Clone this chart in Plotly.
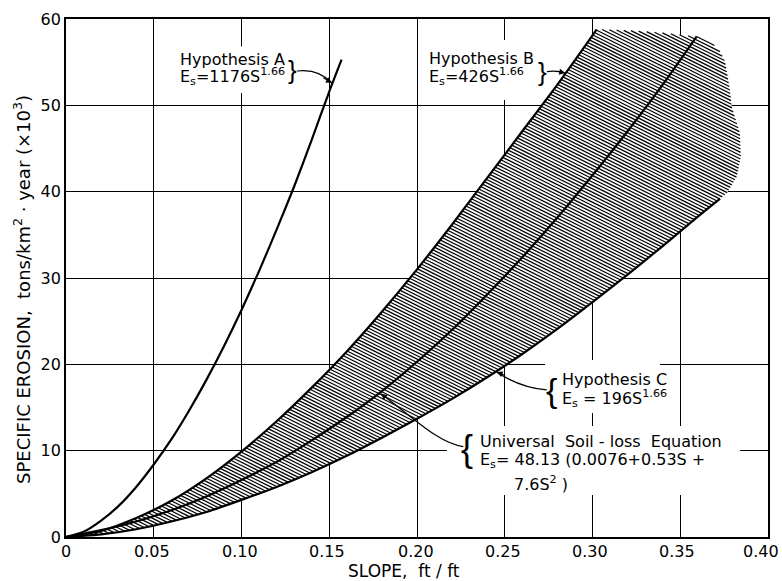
import numpy as np
import plotly.graph_objects as go

# ---------------- data ----------------
slope_a = [0, 0.01, 0.02, 0.03, 0.04, 0.05, 0.06, 0.07, 0.08, 0.09, 0.10,
           0.11, 0.12, 0.13, 0.14, 0.15, 0.157]
erosion_a = [0, 0.6, 1.9, 3.6, 5.8, 8.4, 11.3, 14.6, 18.2, 22.1, 26.3,
             30.8, 35.6, 40.6, 46.0, 51.6, 55.3]

slope_b = [0, 0.02, 0.04, 0.06, 0.08, 0.10, 0.12, 0.14, 0.16, 0.18, 0.20,
           0.22, 0.24, 0.26, 0.28, 0.30, 0.3024]
erosion_b = [0, 0.7, 2.2, 4.2, 6.8, 9.9, 13.4, 17.3, 21.5, 26.1, 31.0,
             36.2, 41.6, 47.0, 52.4, 58.1, 58.8]

slope_c = [0, 0.02, 0.04, 0.06, 0.08, 0.10, 0.12, 0.14, 0.16, 0.18, 0.20,
           0.22, 0.24, 0.26, 0.28, 0.30, 0.32, 0.34, 0.36, 0.3727]
erosion_c = [0, 0.3, 0.9, 1.8, 2.9, 4.3, 5.8, 7.5, 9.4, 11.5, 13.7,
             16.0, 18.5, 21.2, 24.1, 27.2, 30.4, 33.7, 37.1, 39.2]

slope_usle = [0, 0.02, 0.04, 0.06, 0.08, 0.10, 0.12, 0.14, 0.16, 0.18, 0.20,
              0.22, 0.24, 0.26, 0.28, 0.30, 0.32, 0.34, 0.3594]
erosion_usle = [0, 0.8, 1.8, 3.1, 4.7, 6.6, 8.7, 11.2, 13.9, 16.9, 20.3,
                24.0, 28.1, 32.4, 37.0, 41.9, 47.0, 52.4, 58.0]

# outline of the shaded envelope beyond the end of Hypothesis B (top and right edge)
blob_slope = [0.3233, 0.3423, 0.3594, 0.3651, 0.3717, 0.3755, 0.3780, 0.3793,
              0.3840, 0.3845, 0.3822, 0.3765]
blob_erosion = [58.65, 58.35, 57.95, 57.57, 56.61, 55.06, 52.16, 49.84,
                46.76, 44.05, 41.74, 39.81]

x_ticks = [0, 0.05, 0.10, 0.15, 0.20, 0.25, 0.30, 0.35, 0.40]
x_ticklabels = ["0", "0.05", "0.10", "0.15", "0.20", "0.25", "0.30", "0.35", "0.40"]
y_ticks = [0, 10, 20, 30, 40, 50, 60]
y_ticklabels = ["0", "10", "20", "30", "40", "50", "60"]

# ---------------- styling ----------------
FONT = "DejaVu Sans"
W, H = 782, 581
ML, MR, MT, MB = 66, 14, 19, 44
PW, PH = W - ML - MR, H - MT - MB
XR, YR = 0.4, 60.0
PXX, PXY = PW / XR, PH / YR  # pixels per data unit

# envelope polygon: B up, blob, C down
poly_x = list(slope_b) + blob_slope + list(slope_c[::-1])
poly_y = list(erosion_b) + blob_erosion + list(erosion_c[::-1])


def hatch(px, py, slope=0.5, step=3.35):
    u = np.array(px) * PXX
    v = np.array(py) * PXY
    f = v + slope * u
    n = len(u)
    xs, ys = [], []
    for c in np.arange(f.min() + step / 2, f.max(), step):
        pts = []
        for i in range(n):
            j = (i + 1) % n
            a, b = f[i] - c, f[j] - c
            if (a < 0) != (b < 0):
                t = a / (a - b)
                pts.append(u[i] + t * (u[j] - u[i]))
        pts.sort()
        for k in range(0, len(pts) - 1, 2):
            u0, u1 = pts[k], pts[k + 1]
            xs += [u0 / PXX, u1 / PXX, None]
            ys += [(c - slope * u0) / PXY, (c - slope * u1) / PXY, None]
    return xs, ys


fig = go.Figure()

fig.add_trace(go.Scatter(x=poly_x, y=poly_y, fill="toself", fillcolor="white",
                         mode="none", hoverinfo="skip", showlegend=False))
hx, hy = hatch(poly_x, poly_y)
fig.add_trace(go.Scatter(x=hx, y=hy, mode="lines", line=dict(color="black", width=1.25),
                         hoverinfo="skip", showlegend=False))

for xs, ys in [(slope_a, erosion_a), (slope_b, erosion_b), (slope_c, erosion_c),
               (slope_usle, erosion_usle)]:
    fig.add_trace(go.Scatter(x=xs, y=ys, mode="lines", line=dict(color="black", width=2.2,
                                                                   shape="spline", smoothing=0.6),
                             showlegend=False))

# white boxes behind labels (hide grid lines)
boxes = [(0.0593, 0.1333, 51.43, 56.82), (0.2017, 0.2758, 50.62, 57.57),
         (0.2729, 0.3385, 14.36, 20.5), (0.2171, 0.3840, 4.87, 12.86)]
shapes = []
for x0, x1, y0, y1 in boxes:
    shapes.append(dict(type="rect", xref="x", yref="y", x0=x0, x1=x1, y0=y0, y1=y1,
                       fillcolor="white", line=dict(width=0), layer="between"))

# leader curves
leaders = [
    "M 0.1316,53.98 Q 0.1436,54.3 0.1515,52.6",
    "M 0.2741,53.9 Q 0.279,54.1 0.2845,53.75",
    "M 0.2739,17.03 Q 0.2587,17.3 0.2454,19.1",
    "M 0.2264,10.46 C 0.212,10.9 0.198,13.8 0.1795,16.6",
]
for p in leaders:
    shapes.append(dict(type="path", xref="x", yref="y", path=p,
                       line=dict(color="black", width=1.2), layer="above"))

ann = []


def label(x, y, text, anchor="left", size=16, fam=FONT):
    ann.append(dict(x=x, y=y, xref="x", yref="y", text=text, showarrow=False,
                    xanchor=anchor, yanchor="middle",
                    font=dict(family=fam, size=size, color="black")))


label(0.0638, 55.3, "Hypothesis A")
label(0.0638, 53.3, "E<sub>s</sub>=1176S<sup>1.66</sup>")
label(0.1292, 54.1, "}", anchor="center", size=26, fam="Liberation Sans")

label(0.2057, 55.4, "Hypothesis B")
label(0.2057, 53.3, "E<sub>s</sub>=426S<sup>1.66</sup>")
label(0.2716, 53.9, "}", anchor="center", size=26, fam="Liberation Sans")

label(0.2815, 18.3, "Hypothesis C")
label(0.2815, 16.0, "E<sub>s</sub> = 196S<sup>1.66</sup>")
label(0.2765, 17.0, "{", anchor="center", size=34, fam="Liberation Sans")

label(0.2348, 11.1, "Universal  Soil - loss  Equation")
label(0.2348, 8.85, "E<sub>s</sub>= 48.13 (0.0076+0.53S +")
label(0.2541, 6.2, "7.6S<sup>2</sup> )")
label(0.2287, 10.3, "{", anchor="center", size=36, fam="Liberation Sans")

# arrowheads
for x, y, ax, ay in [(0.1515, 52.6, -10, -6), (0.2845, 53.75, -10, -2),
                     (0.2454, 19.1, 10, 4), (0.1795, 16.6, 6, 5)]:
    ann.append(dict(x=x, y=y, xref="x", yref="y", text="", showarrow=True,
                    arrowhead=2, arrowsize=1, arrowwidth=1.2, arrowcolor="black",
                    ax=ax, ay=ay, standoff=0))

# x tick labels (drawn as text so the last one stays inside the page)
x_label_shift = [0, -2, -2, -2, -1, -2, -3, -3, -7]
for v, t, s in zip(x_ticks, x_ticklabels, x_label_shift):
    ann.append(dict(x=v, y=0, xref="x", yref="paper", text=t, showarrow=False,
                    xanchor="center", yanchor="middle", xshift=s, yshift=-14,
                    font=dict(family=FONT, size=16, color="black")))

# axis titles
ann.append(dict(x=(22 - ML) / PW, y=(MT + PH - 290) / PH, xref="paper", yref="paper",
                text="SPECIFIC EROSION,  tons/km<sup>2</sup> · year (×10<sup>3</sup>)",
                textangle=-90, showarrow=False, xanchor="center", yanchor="middle",
                font=dict(family=FONT, size=18, color="black")))
ann.append(dict(x=(404 - ML) / PW, y=(MT + PH - 571) / PH, xref="paper", yref="paper",
                text="SLOPE,  ft / ft", showarrow=False, xanchor="center", yanchor="middle",
                font=dict(family=FONT, size=17, color="black")))

axis_common = dict(showgrid=True, gridcolor="black", gridwidth=1.3, showline=True,
                   linecolor="black", linewidth=1.7, mirror=True, zeroline=False,
                   ticks="", tickfont=dict(family=FONT, size=16, color="black"))

fig.update_layout(
    width=W, height=H, margin=dict(l=ML, r=MR, t=MT, b=MB, autoexpand=False),
    plot_bgcolor="white", paper_bgcolor="white",
    xaxis=dict(range=[0, XR], tickvals=x_ticks, showticklabels=False, **axis_common),
    yaxis=dict(range=[0, YR], tickvals=y_ticks, ticktext=y_ticklabels, **axis_common),
    shapes=shapes, annotations=ann, showlegend=False,
)

fig.write_html("out.html", config={"displayModeBar": False},
               post_script="document.body.style.margin='0';")
